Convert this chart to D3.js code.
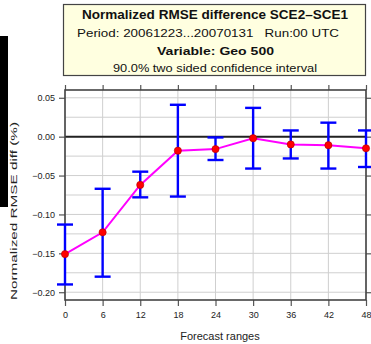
<!DOCTYPE html>
<html><head><meta charset="utf-8">
<script src="https://cdn.jsdelivr.net/npm/d3@7"></script>
<style>body{margin:0;background:#fff}svg{display:block}text{font-family:"Liberation Sans",Arial,Helvetica,sans-serif;white-space:pre}</style>
</head><body>
<script>
const ranges = [0, 6, 12, 18, 24, 30, 36, 42, 48];
const meanDiff = [-0.151, -0.123, -0.062, -0.018, -0.016, -0.002, -0.010, -0.011, -0.015];
const upperCI = [-0.113, -0.067, -0.045, 0.041, -0.001, 0.037, 0.008, 0.018, 0.008];
const lowerCI = [-0.190, -0.180, -0.078, -0.077, -0.030, -0.041, -0.028, -0.041, -0.039];
const yTicks = [0.05, 0.00, -0.05, -0.10, -0.15, -0.20];
const yGrid = [0.05, 0.025, 0, -0.025, -0.05, -0.075, -0.10, -0.125, -0.15, -0.175, -0.20];
const titleLines = ["Normalized RMSE difference SCE2\u2013SCE1", "Period: 20061223...20070131   Run:00 UTC", "Variable: Geo 500", "90.0% two sided confidence interval"];
const xLabel = "Forecast ranges";
const yLabel = "Normalized RMSE diff (%)";

const W = 371, H = 344;
const svg = d3.select("body").append("svg").attr("width", W).attr("height", H);
const x = d3.scaleLinear().domain([0, 48]).range([65, 366]);
const y = d3.scaleLinear().domain([-0.21, 0.06]).range([300, 90]);
const [x0, x1] = x.range(); const [yb, yt] = y.range();

// black strip at left
svg.append("rect").attr("x", 0).attr("y", 36).attr("width", 8).attr("height", 171).attr("fill", "#000");

// grid
svg.append("g").selectAll("line").data(yGrid).join("line")
  .attr("x1", x0).attr("x2", x1).attr("y1", d => y(d)).attr("y2", d => y(d))
  .attr("stroke", "#cfcfcf").attr("stroke-width", 1);
svg.append("g").selectAll("line").data(ranges).join("line")
  .attr("x1", d => x(d)).attr("x2", d => x(d)).attr("y1", yt).attr("y2", yb)
  .attr("stroke", "#cfcfcf").attr("stroke-width", 1);

// zero line
svg.append("line").attr("x1", x0).attr("x2", x1).attr("y1", y(0)).attr("y2", y(0))
  .attr("stroke", "#222").attr("stroke-width", 2);

// axes
const fmt = d3.format(".2f");
const fmtY = d => fmt(d).replace("-", "\u2212");
const gL = svg.append("g").attr("transform", `translate(${x0},0)`)
  .call(d3.axisLeft(y).tickValues(yTicks).tickSize(6).tickPadding(4).tickFormat(fmtY));
const gR = svg.append("g").attr("transform", `translate(${x1},0)`)
  .call(d3.axisRight(y).tickValues(yTicks).tickSize(5).tickFormat(""));
const gB = svg.append("g").attr("transform", `translate(0,${yb})`)
  .call(d3.axisBottom(x).tickValues(ranges).tickSize(6).tickPadding(6));
const gT = svg.append("g").attr("transform", `translate(0,${yt})`)
  .call(d3.axisTop(x).tickValues(ranges).tickSize(5).tickFormat(""));
[gL, gR, gB, gT].forEach(g => {
  g.select(".domain").remove();
  g.selectAll("line").attr("stroke", "#555").attr("stroke-width", 1.2);
  g.selectAll("text").attr("font-size", 9).attr("fill", "#222").attr("font-family", '"Liberation Sans",Arial,sans-serif');
});
// frame
svg.append("rect").attr("x", x0).attr("y", yt).attr("width", x1 - x0).attr("height", yb - yt)
  .attr("fill", "none").attr("stroke", "#444").attr("stroke-width", 1.6);

// error bars
const eb = svg.append("g").attr("stroke", "#0000ff").attr("stroke-width", 2.4).attr("fill", "none");
ranges.forEach((r, i) => {
  eb.append("line").attr("x1", x(r)).attr("x2", x(r)).attr("y1", y(upperCI[i])).attr("y2", y(lowerCI[i]));
  eb.append("line").attr("x1", x(r) - 8).attr("x2", x(r) + 8).attr("y1", y(upperCI[i])).attr("y2", y(upperCI[i]));
  eb.append("line").attr("x1", x(r) - 8).attr("x2", x(r) + 8).attr("y1", y(lowerCI[i])).attr("y2", y(lowerCI[i]));
});

// line
const line = d3.line().x((d, i) => x(ranges[i])).y(d => y(d));
svg.append("path").datum(meanDiff).attr("d", line).attr("fill", "none")
  .attr("stroke", "#ff00ff").attr("stroke-width", 2);
svg.append("g").selectAll("circle").data(meanDiff).join("circle")
  .attr("cx", (d, i) => x(ranges[i])).attr("cy", d => y(d)).attr("r", 3.6)
  .attr("fill", "#ff0000").attr("stroke", "#b00000").attr("stroke-width", 0.6);

// title box
svg.append("rect").attr("x", 63.5).attr("y", 4.5).attr("width", 302).attr("height", 71)
  .attr("fill", "#ffffe0").attr("stroke", "#444").attr("stroke-width", 1.2);
const tl = [
  {cx: 215, by: 19, fs: 12, fw: "bold", len: 266},
  {cx: 208, by: 37, fs: 11, fw: "normal", len: 262},
  {cx: 215.5, by: 55, fs: 11.5, fw: "bold", len: 117},
  {cx: 215, by: 71.5, fs: 10, fw: "normal", len: 204}
];
titleLines.forEach((t, i) => {
  svg.append("text").attr("x", tl[i].cx).attr("y", tl[i].by).attr("text-anchor", "middle")
    .attr("font-size", tl[i].fs).attr("font-weight", tl[i].fw).attr("fill", "#111")
    .attr("textLength", tl[i].len).attr("lengthAdjust", "spacingAndGlyphs").text(t);
});

// axis labels
svg.append("text").attr("x", 220).attr("y", 340).attr("text-anchor", "middle")
  .attr("font-size", 11).attr("fill", "#222").text(xLabel);
svg.append("text").attr("transform", "translate(17,211) rotate(-90)").attr("text-anchor", "middle")
  .attr("font-size", 9.5).attr("fill", "#222")
  .attr("textLength", 178).attr("lengthAdjust", "spacingAndGlyphs").text(yLabel);
</script>
</body></html>
